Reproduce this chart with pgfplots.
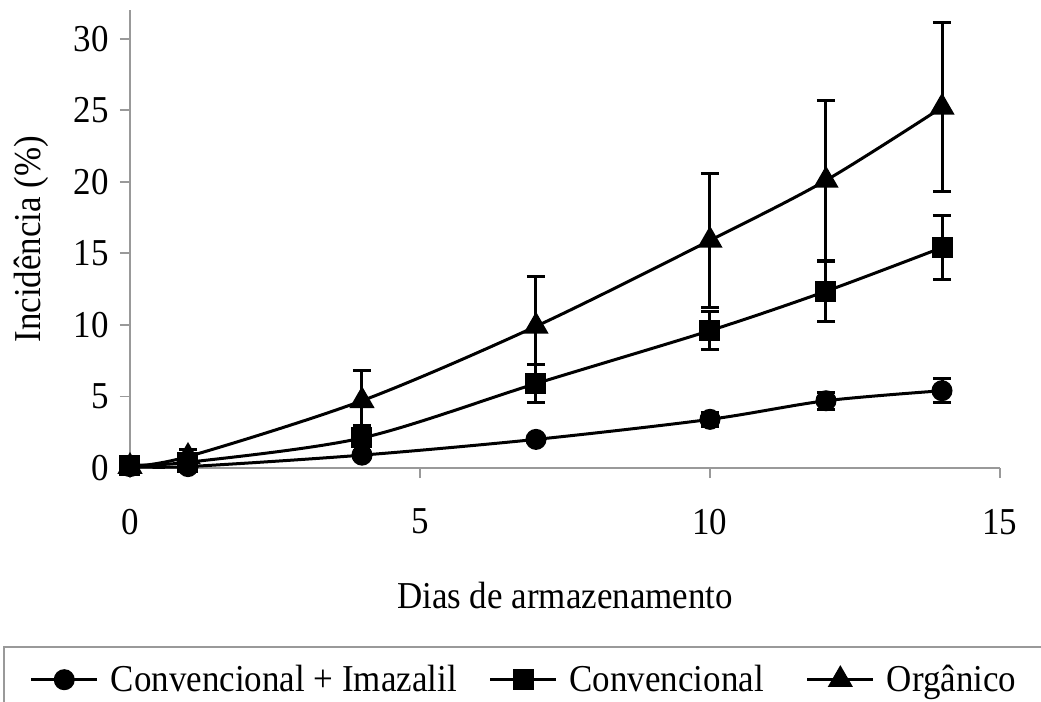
\documentclass[border=0pt]{standalone}
\usepackage{fontspec}
\setmainfont[FakeStretch=0.92]{Liberation Serif}
\usepackage{pgfplots}
\pgfplotsset{compat=1.18}
\newcommand{\fs}{\fontsize{19}{22}\selectfont}
\begin{document}
\begin{tikzpicture}
\path[use as bounding box] (0,0) rectangle (520.5pt,-351pt);
\begin{axis}[
  at={(65pt,-234pt)}, anchor=south west,
  scale only axis, width=435pt, height=229pt,
  xmin=0, xmax=15, ymin=0, ymax=32,
  axis x line*=bottom, axis y line*=left,
  axis line style={draw=gray!80, line width=0.9pt, -},
  xtick={0,5,10,15}, ytick={0,5,10,15,20,25,30},
  tick align=outside, major tick length=5pt,
  tick style={draw=gray!80, line width=0.9pt},
  /pgf/number format/assume math mode=true,
  tick label style={font=\fs},
  xticklabel style={yshift=-12pt},
  yticklabel style={xshift=-2pt},
  label style={font=\fs},
  xlabel={Dias de armazenamento},
  ylabel={Incidência (\%)},
  xlabel style={at={(axis description cs:0.5,-0.278)}, anchor=center},
  ylabel style={at={(axis description cs:-0.113,0.5)}, anchor=center, rotate=0},
  clip=false,
  legend columns=3,
  legend cell align=left,
  legend style={at={(axis description cs:-0.146,-0.389)}, anchor=north west,
    draw=gray!80, line width=0.8pt, font=\fs, inner xsep=13pt, inner ysep=7pt,
    /tikz/column 1/.style={column sep=4pt},
    /tikz/column 2/.style={column sep=14pt},
    /tikz/column 3/.style={column sep=4pt},
    /tikz/column 4/.style={column sep=19pt},
    /tikz/column 5/.style={column sep=4pt}},
  legend image code/.code={\draw[mark repeat=2,mark phase=2] plot coordinates {(0pt,0pt)(16.5pt,0pt)(33pt,0pt)};},
  every axis plot/.append style={black, line width=1.5pt, smooth, tension=0.5},
  error bars/error bar style={line width=1.5pt, solid},
  error bars/error mark options={rotate=90, mark size=4.5pt, line width=1.5pt},
]
\addplot[black, mark=*, mark size=4.5pt, mark options={fill=black, solid},
  error bars/.cd, y dir=both, y explicit]
  coordinates {(0,0.1) +- (0,0.05) (1,0.1) +- (0,0.1) (4,0.9) +- (0,0.3) (7,2.0) +- (0,0.25)
   (10,3.4) +- (0,0.5) (12,4.7) +- (0,0.6) (14,5.4) +- (0,0.85)};
\addlegendentry{Convencional + Imazalil}
\addplot[black, mark=square*, mark size=4.5pt, mark options={fill=black, solid},
  error bars/.cd, y dir=both, y explicit]
  coordinates {(0,0.2) +- (0,0.05) (1,0.4) +- (0,0.3) (4,2.1) +- (0,0.9) (7,5.9) +- (0,1.35)
   (10,9.6) +- (0,1.35) (12,12.35) +- (0,2.1) (14,15.4) +- (0,2.25)};
\addlegendentry{Convencional}
\addplot[black, mark=triangle*, mark size=5.8pt, mark options={fill=black, solid},
  error bars/.cd, y dir=both, y explicit]
  coordinates {(0,0.1) +- (0,0.05) (1,0.8) +- (0,0.5) (4,4.7) +- (0,2.1) (7,9.9) +- (0,3.5)
   (10,15.9) +- (0,4.7) (12,20.1) +- (0,5.6) (14,25.2) +- (0,5.9)};
\addlegendentry{Orgânico}
\end{axis}
\end{tikzpicture}
\end{document}
